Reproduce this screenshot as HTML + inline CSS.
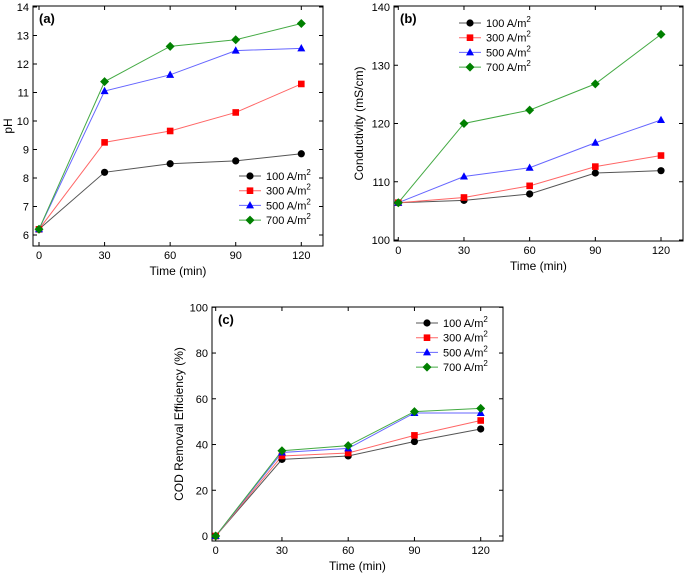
<!DOCTYPE html>
<html><head><meta charset="utf-8"><style>
body{margin:0;background:#fff;}
svg{display:block;font-family:"Liberation Sans",Arial,sans-serif;}
</style></head><body>
<svg id="c" width="685" height="578"></svg>
<script>
const xCats=[0,30,60,90,120];
const seriesNames=["100 A/m","300 A/m","500 A/m","700 A/m"];
const colors=["#000000","#ff0000","#0000ff","#008000"];
const lineColors=["#555555","#ff6666","#6666ff","#44aa44"];
const markers=["circle","square","triangle","diamond"];
const phTicks=[6,7,8,9,10,11,12,13,14];
const ph100=[6.2,8.2,8.5,8.6,8.85];
const ph300=[6.2,9.25,9.65,10.3,11.3];
const ph500=[6.2,11.05,11.62,12.47,12.55];
const ph700=[6.2,11.38,12.62,12.85,13.42];
const condTicks=[100,110,120,130,140];
const cond100=[106.4,106.8,107.9,111.5,111.9];
const cond300=[106.4,107.3,109.3,112.6,114.5];
const cond500=[106.4,110.9,112.4,116.7,120.6];
const cond700=[106.4,120,122.3,126.8,135.3];
const codTicks=[0,20,40,60,80,100];
const cod100=[0,33.5,35,41.3,46.8];
const cod300=[0,35,36.3,44,50.5];
const cod500=[0,36.5,38.3,53.8,53.8];
const cod700=[0,37.3,39.5,54.4,55.8];

const NS="http://www.w3.org/2000/svg";
const svg=document.getElementById('c');
function mk(tag,attrs,parent){const e=document.createElementNS(NS,tag);for(const k in attrs)e.setAttribute(k,attrs[k]);(parent||svg).appendChild(e);return e;}
function marker(g,type,x,y,col){
  let e;
  if(type==="circle")e=mk('circle',{cx:x,cy:y,r:3.6,fill:col},g);
  else if(type==="square")e=mk('rect',{x:x-3.3,y:y-3.3,width:6.6,height:6.6,fill:col},g);
  else if(type==="triangle")e=mk('polygon',{points:`${x},${y-4.3} ${x+4},${y+3} ${x-4},${y+3}`,fill:col},g);
  else e=mk('polygon',{points:`${x},${y-4.5} ${x+4.5},${y} ${x},${y+4.5} ${x-4.5},${y}`,fill:col},g);
  return e;
}
function panel(o){
  const g=mk('g',{});
  
  
  const xs=v=>o.x0+(v-0)/120*(o.x1-o.x0);
  const ys=v=>o.y0+(v-o.ymin)/(o.ymax-o.ymin)*(o.y1-o.y0);
  const fr=mk('rect',{x:o.L,y:o.T,width:o.R-o.L,height:o.B-o.T,fill:'none',stroke:'#000','stroke-width':1},g);
  
  
  o.yt.forEach(t=>{
    const y=ys(t);
    mk('line',{x1:o.L,x2:o.L+4,y1:y,y2:y,stroke:'#000'},g);
    mk('line',{x1:o.R,x2:o.R-4,y1:y,y2:y,stroke:'#000'},g);
    const tx=mk('text',{x:o.L-4,y:y+4,'text-anchor':'end','font-size':11},g);tx.textContent=t;
    
    
  });
  xCats.forEach(t=>{
    const x=xs(t);
    mk('line',{x1:x,x2:x,y1:o.B,y2:o.B-4,stroke:'#000'},g);
    mk('line',{x1:x,x2:x,y1:o.T,y2:o.T+4,stroke:'#000'},g);
    const tx=mk('text',{x:x,y:o.B+13,'text-anchor':'middle','font-size':11},g);tx.textContent=t;
    
    
  });
  const xt=mk('text',{x:(o.L+o.R)/2,y:o.B+29,'text-anchor':'middle','font-size':12},g);xt.textContent='Time (min)';
  
  
  const yt=mk('text',{x:0,y:0,'text-anchor':'middle','font-size':12,transform:`translate(${o.ytx},${(o.T+o.B)/2}) rotate(-90)`},g);yt.textContent=o.ytitle;
  
  
  const lab=mk('text',{x:o.L+6,y:o.T+17,'font-size':13,'font-weight':'bold'},g);lab.textContent=o.label;
  
  
  o.data.forEach((arr,i)=>{
    const pts=arr.map((v,j)=>xs(xCats[j])+','+ys(v)).join(' ');
    const pl=mk('polyline',{points:pts,fill:'none',stroke:lineColors[i],'stroke-width':1},g);
    
    
  });
  o.data.forEach((arr,i)=>{
    arr.forEach((v,j)=>{const m=marker(g,markers[i],xs(xCats[j]),ys(v),colors[i]);
      
      });
  });
  seriesNames.forEach((n,i)=>{
    const y=o.ly+i*o.lg;
    const le=mk('g',{},g);
    
    
    mk('line',{x1:o.lx,x2:o.lx+22,y1:y,y2:y,stroke:lineColors[i]},le);
    marker(le,markers[i],o.lx+11,y,colors[i]);
    const t=mk('text',{x:o.lx+27,y:y+4,'font-size':11},le);
    t.textContent=n;
    const s=mk('tspan',{dy:-5,'font-size':8},t);s.textContent='2';
  });
}
panel({name:'ph-chart',L:33,R:323,T:6,B:246,x0:39,x1:301.3,ymin:6,ymax:14,y0:235,y1:7,yt:phTicks,ytitle:'pH',ytx:12,label:'(a)',data:[ph100,ph300,ph500,ph700],lx:239,ly:176,lg:14.7});
panel({name:'conductivity-chart',L:394,R:683,T:6,B:241,x0:398.3,x1:661,ymin:100,ymax:140,y0:240,y1:7,yt:condTicks,ytitle:'Conductivity (mS/cm)',ytx:363,label:'(b)',data:[cond100,cond300,cond500,cond700],lx:459,ly:23,lg:14.7});
panel({name:'cod-chart',L:212,R:503,T:307,B:541,x0:215.7,x1:480.7,ymin:0,ymax:100,y0:536,y1:307.3,yt:codTicks,ytitle:'COD Removal Efficiency (%)',ytx:183,label:'(c)',data:[cod100,cod300,cod500,cod700],lx:416,ly:323,lg:14.7});
</script>
</body></html>
